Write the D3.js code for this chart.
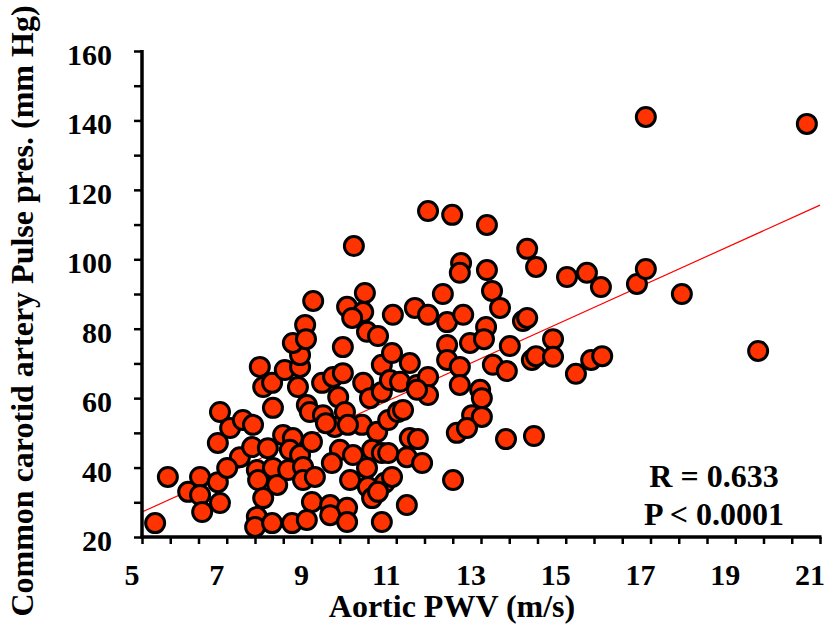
<!DOCTYPE html>
<html>
<head>
<meta charset="utf-8">
<script src="https://cdn.jsdelivr.net/npm/d3@7"></script>
<style>
  html, body { margin: 0; padding: 0; background: #fff; }
  svg { display: block; }
  text { font-family: "Liberation Serif", "Times New Roman", serif; font-weight: bold; fill: #000; }
</style>
</head>
<body>
<script>
// Aortic pulse wave velocity (m/s) for each subject
const pwv = [
  5.31, 5.61, 6.09, 6.37, 6.37, 6.42, 6.79, 6.84, 6.79, 6.84, 7.08, 7.38, 7.62, 7.31, 7.01, 7.60,
  7.71, 7.74, 7.86, 7.71, 7.67, 8.07, 8.54, 7.97, 8.09, 8.19, 8.45, 8.33, 8.56, 8.49, 8.09, 7.86,
  8.07, 7.78, 8.37, 8.68, 8.73, 8.73, 8.56, 8.85, 8.87, 9.04, 8.73,
  8.80, 8.80, 8.89, 8.96, 9.01, 9.74, 10.66, 10.90, 11.32, 12.20, 12.20, 12.50, 13.28, 9.25, 9.51,
  9.74, 10.22, 10.38, 10.66, 10.85, 11.09, 11.49, 11.75, 11.75, 11.49, 12.50, 12.98, 13.02, 9.63,
  9.27, 9.79, 9.55, 10.19, 10.55, 10.81, 11.04, 11.16, 9.34, 9.67, 9.98, 10.43, 10.66, 10.81, 11.32,
  11.51, 11.25, 11.61, 12.79, 13.02, 12.43, 12.67, 12.34, 9.08, 9.48, 9.91, 10.31, 10.33, 10.73,
  10.90, 10.43, 10.57, 9.01, 9.44, 9.84, 9.44, 9.84, 8.89, 11.25, 10.66, 9.86,
  10.00, 10.26, 9.84, 10.22, 9.96, 10.31, 10.57,
  11.75, 12.32, 13.14, 14.09, 14.30, 15.03, 15.50, 15.83, 16.68, 12.53, 12.50, 13.14, 13.26, 13.45,
  12.10, 10.92, 11.44, 11.75, 12.20, 12.58, 13.99, 14.09, 12.74, 13.12, 13.07, 13.68, 14.70, 13.61,
  14.20, 14.30, 14.70, 15.24, 15.60, 15.86, 13.59, 14.25,
  16.89, 20.69, 16.89, 17.74, 19.54
];

// Common carotid artery pulse pressure (mm Hg), same subject order
const pulsePressure = [
  24.0, 37.3, 33.0, 37.3, 32.1, 27.2, 35.8, 29.8, 47.1, 56.0, 51.4, 53.7, 52.3, 43.0, 39.9, 45.9,
  39.3, 36.4, 31.2, 25.8, 22.9, 24.0, 24.0, 45.6, 39.9, 35.0, 39.3, 49.4, 48.5, 45.1, 57.2, 63.2,
  64.4, 69.0, 68.1, 63.2, 69.0, 72.4, 75.9, 81.1, 77.0, 88.0, 43.6,
  40.2, 36.4, 58.0, 56.0, 47.4, 74.7, 69.6, 73.0, 70.1, 75.3, 71.0, 69.0, 69.6, 64.4, 66.1,
  67.2, 64.4, 60.0, 61.8, 65.2, 64.7, 63.8, 66.1, 60.9, 62.4, 63.8, 62.4, 60.0, 60.3,
  55.1, 56.0, 51.7, 52.3, 50.3, 53.7, 56.0, 56.6, 52.8, 45.1, 43.6, 45.1, 44.2, 44.2, 48.5,
  48.2, 43.0, 41.3, 55.1, 54.6, 50.0, 51.4, 36.4, 37.3, 41.3, 36.4, 39.9, 34.4, 35.6,
  37.3, 31.2, 33.0, 30.1, 29.2, 28.4, 26.3, 24.3, 24.9, 29.2, 24.3, 52.3,
  103.8, 90.3, 86.3, 84.8, 83.1, 79.1, 77.9,
  113.9, 112.8, 109.9, 103.0, 97.8, 94.9, 96.1, 92.0, 92.9, 98.9, 96.1, 96.9, 90.9, 86.0,
  90.0, 84.0, 86.0, 84.0, 81.9, 84.0, 82.2, 83.1, 75.9, 80.5, 77.0, 75.0, 77.0, 67.8,
  71.0, 72.1, 71.9, 67.0, 71.0, 72.1, 48.2, 49.1,
  141.0, 139.0, 97.2, 90.0, 73.6
];

// Least-squares fit line endpoints
const fitX = [5, 21];
const fitY = [27.2, 115.6];

// Axis tick values
const xTickLabels = [5, 7, 9, 11, 13, 15, 17, 19, 21];
const yTickLabels = [20, 40, 60, 80, 100, 120, 140, 160];

const statLines = ["R = 0.633", "P < 0.0001"];

const W = 829, H = 624;
const margin = { left: 142, right: 9, top: 51, bottom: 87 };

const svg = d3.select("body").append("svg")
  .attr("width", W).attr("height", H);

const x = d3.scaleLinear().domain([5, 21]).range([margin.left, W - margin.right]);
const y = d3.scaleLinear().domain([20, 160]).range([H - margin.bottom, margin.top]);

// Regression line (under the points)
svg.append("line")
  .attr("x1", x(fitX[0])).attr("y1", y(fitY[0]))
  .attr("x2", x(fitX[1])).attr("y2", y(fitY[1]))
  .attr("stroke", "#ff0000").attr("stroke-width", 1.2);

// Scatter points
const pts = pwv.map((v, i) => [v, pulsePressure[i]]);
svg.append("g").selectAll("circle").data(pts).join("circle")
  .attr("cx", d => x(d[0]))
  .attr("cy", d => y(d[1]))
  .attr("r", 9.5)
  .attr("fill", "#ff3300")
  .attr("stroke", "#000")
  .attr("stroke-width", 3);

// X axis: minor ticks every 2/3 unit, labels every 2 units
const xTicks = d3.range(0, 25).map(k => 5 + k * 2 / 3);
const xAxis = d3.axisBottom(x).tickValues(xTicks).tickSize(7).tickFormat("");
const gx = svg.append("g").attr("transform", `translate(0,${y(20)})`).call(xAxis);
gx.select(".domain").attr("stroke-width", 3.5).attr("d", `M${x(5) - 1.5},0H${x(21) + 1.5}`);
gx.selectAll(".tick line").attr("stroke-width", 2.5);

svg.append("g").selectAll("text").data(xTickLabels).join("text")
  .attr("x", d => x(d) - 10)
  .attr("y", 585)
  .attr("text-anchor", "middle")
  .style("font-size", "30px")
  .text(d => d);

// Y axis: ticks every 10, labels every 20
const yAxis = d3.axisLeft(y).tickValues(d3.range(20, 161, 10)).tickSize(8).tickFormat("");
const gy = svg.append("g").attr("transform", `translate(${x(5)},0)`).call(yAxis);
gy.select(".domain").attr("stroke-width", 3.5).attr("d", `M0,${y(160) - 1}V${y(20) + 1.5}`);
gy.selectAll(".tick line").attr("stroke-width", 2.5);

svg.append("g").selectAll("text").data(yTickLabels).join("text")
  .attr("x", 112)
  .attr("y", d => y(d) + 14)
  .attr("text-anchor", "end")
  .style("font-size", "30px")
  .text(d => d);

// Axis titles
svg.append("text")
  .attr("x", 452).attr("y", 617)
  .attr("text-anchor", "middle")
  .style("font-size", "32px")
  .text("Aortic PWV (m/s)");

svg.append("text")
  .attr("transform", "translate(33,311) rotate(-90)")
  .attr("text-anchor", "middle")
  .style("font-size", "32px")
  .text("Common carotid artery Pulse pres. (mm Hg)");

// Correlation statistics
svg.append("g").selectAll("text").data(statLines).join("text")
  .attr("x", 714)
  .attr("y", (d, i) => 487 + i * 38)
  .attr("text-anchor", "middle")
  .style("font-size", "32px")
  .text(d => d);
</script>
</body>
</html>
